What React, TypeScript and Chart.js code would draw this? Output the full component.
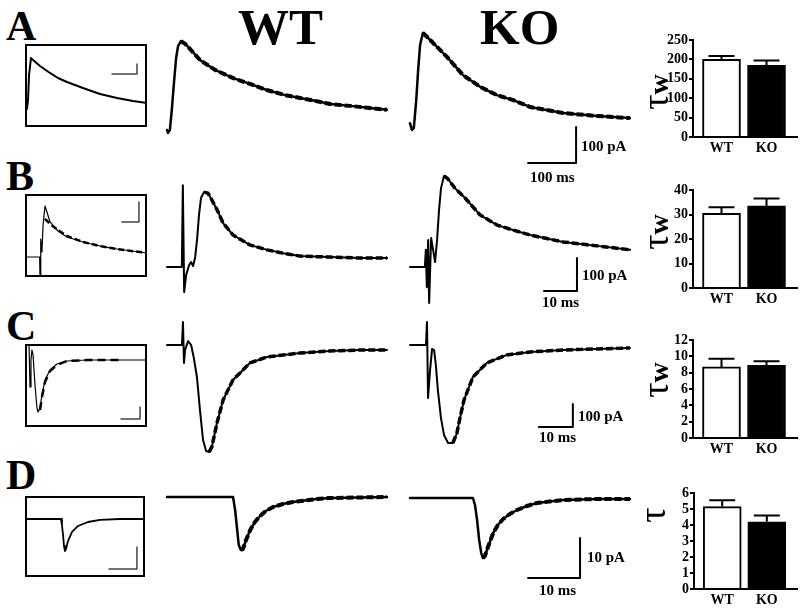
import React, { useEffect, useRef } from "react";
import { Chart, registerables } from "chart.js";
Chart.register(...registerables);

const FONT = "'Liberation Serif','Times New Roman',serif";

// ---------- bar chart data (tau, mean ± sem) ----------
const groups = ["WT", "KO"];
const tauMeanA = [200, 185];
const tauSemA = [9, 12];
const tauMeanB = [30.5, 33.5];
const tauSemB = [2.5, 3];
const tauMeanC = [8.7, 8.9];
const tauSemC = [1.0, 0.5];
const tauMeanD = [5.15, 4.2];
const tauSemD = [0.4, 0.4];
const tauAxisMax = [250, 40, 12, 6];
const tauAxisStep = [50, 10, 2, 1];

// ---------- main traces (t in ms, I in pA) ----------
const aWtT = [0, 2, 6, 10, 15, 19, 23, 29, 38, 48, 69, 100, 138, 173, 208, 246, 277, 308, 340, 381, 423, 458];
const aWtI = [0, -8, 0, 56, 139, 200, 233, 247, 239, 225, 194, 167, 144, 128, 111, 97, 89, 81, 72, 67, 61, 56];
const aKoT = [0, 4, 8, 13, 17, 21, 27, 42, 63, 77, 110, 146, 181, 215, 250, 319, 390, 458];
const aKoI = [19, 0, 6, 83, 167, 236, 270, 250, 222, 203, 153, 120, 97, 83, 64, 47, 39, 33];

const bWtT = [0, 4.5, 4.8, 5.2, 5.8, 6.7, 7.3, 7.9, 8.5, 9.1, 9.7, 10.3, 11.2, 12.4, 13.6, 15.2, 17.0, 20.0, 25.1, 30.3, 35.1, 40.3, 49.4, 58.5, 66.7];
const bWtI = [0, 0, 248, -76, -24, 6, 15, 3, 27, 82, 158, 209, 227, 224, 203, 173, 133, 97, 67, 52, 42, 33, 30, 27, 27];
const bKoT = [0, 4.5, 4.8, 5.1, 5.5, 5.8, 6.4, 7.0, 7.6, 8.2, 8.8, 9.4, 10.3, 11.5, 13.6, 16.7, 21.2, 26.4, 31.2, 36.4, 46.4, 56.7, 66.7];
const bKoI = [0, 0, 52, -61, 82, -109, 88, 52, 15, 82, 173, 239, 276, 267, 239, 209, 158, 127, 112, 97, 76, 64, 52];

const cWtT = [0, 4.4, 4.7, 5.0, 5.3, 6.2, 7.1, 7.9, 8.8, 9.7, 10.6, 11.5, 12.4, 13.2, 14.7, 16.5, 19.4, 24.4, 29.4, 39.1, 47.9, 56.8, 64.7];
const cWtI = [0, 0, 100, -78, -22, 17, 0, -57, -139, -283, -413, -461, -465, -443, -339, -239, -152, -78, -52, -35, -26, -22, -22];
const cKoT = [0, 4.7, 5.0, 5.3, 5.9, 6.5, 7.1, 7.6, 8.2, 9.1, 10.0, 11.2, 12.6, 13.8, 14.7, 15.9, 18.5, 22.6, 28.5, 35.3, 45.0, 54.9, 64.7];
const cKoI = [0, 0, 100, -230, -109, -17, -22, -87, -196, -317, -391, -426, -426, -383, -317, -239, -139, -78, -43, -30, -22, -17, -13];

const dWtT = [0, 12.7, 13.1, 13.5, 13.8, 14.2, 14.6, 15.2, 16.0, 16.9, 17.9, 19.0, 20.4, 22.3, 24.2, 28.8, 31.3, 42.3];
const dWtI = [0, 0, -3.25, -8.25, -12, -13.25, -13, -10.75, -8.25, -6.25, -4.75, -3.5, -2.5, -1.75, -1.25, -0.5, -0.25, 0];
const dKoT = [0, 12.1, 12.5, 12.9, 13.3, 13.7, 14.0, 14.4, 15.0, 16.0, 16.9, 17.9, 19.2, 20.6, 22.5, 24.4, 29.4, 35.9, 42.3];
const dKoI = [0, 0, -1.75, -5.5, -10.5, -13.75, -15, -14.5, -12.25, -8.75, -6.75, -5.25, -4, -3, -2, -1.25, -0.5, -0.25, -0.25];

// index where the exponential fit starts (peak)
const fitStart = { aWt: 7, aKo: 6, bWt: 12, bKo: 12, cWt: 12, cKo: 12, dWt: 5, dKo: 6 };

// scale bars [t, I]
const barAT = [246, 346, 346];
const barAI = [-92, -92, 8];
const barBT = [40.6, 50.6, 50.6];
const barBI = [-73, -73, 27];
const barCT = [37.9, 47.9, 47.9];
const barCI = [-357, -357, -257];
const barDT = [22.7, 32.7, 32.7];
const barDI = [-20, -20, -10];

// ---------- insets (normalised units 0-100) ----------
const inAU = [0.8, 1.6, 2.5, 3.3, 4.9, 6.6, 12.3, 20.5, 27.0, 34.4, 47.5, 61.5, 75.4, 88.5, 100];
const inAV = [34.9, 21.7, 32.5, 62.7, 83.1, 80.7, 73.5, 65.1, 59.0, 54.2, 47.0, 39.8, 34.9, 31.3, 28.9];
const inBU = [0, 12.0, 12.3, 12.7, 13.1, 13.9, 14.8, 16.4, 18.0, 20.5, 27.0, 34.4, 47.5, 61.5, 75.4, 100];
const inBV = [24.1, 24.1, 0, 38.6, 45.8, 30.1, 62.7, 85.5, 78.3, 66.3, 55.4, 48.2, 42.2, 37.3, 33.7, 28.9];
const inBFitU = [16.4, 20.5, 27.0, 34.4, 47.5, 61.5, 75.4, 100];
const inBFitV = [69.9, 63.9, 56.6, 49.4, 42.2, 37.3, 33.7, 28.9];
const inCU = [1.6, 3.3, 4.1, 4.9, 5.7, 6.6, 8.2, 9.8, 10.7, 12.3, 13.9, 16.4, 20.5, 26.2, 34.4, 50.8, 100];
const inCV = [98.8, 98.8, 48.2, 80.7, 92.8, 86.7, 50.6, 22.9, 18.1, 22.9, 38.6, 56.6, 68.7, 75.9, 79.5, 80.7, 80.7];
const inCFitU = [12.3, 13.9, 16.4, 20.5, 26.2, 34.4, 50.8, 77.9];
const inCFitV = [20.5, 36.1, 54.2, 67.5, 74.7, 79.5, 80.7, 80.7];
const inDU = [0, 30, 30.8, 31.7, 32.5, 33.3, 34.2, 35.8, 39.2, 44.2, 52.5, 62.5, 79.2, 100];
const inDV = [71.6, 71.6, 64.2, 51.9, 38.3, 32.1, 34.6, 44.4, 55.6, 63.0, 67.9, 70.4, 71.6, 71.6];
const inBarAU = [71.3, 91.8, 91.8];
const inBarAV = [63.9, 63.9, 75.9];
const inBarBU = [79.5, 93.4, 93.4];
const inBarBV = [66.3, 66.3, 90.4];
const inBarCU = [78.7, 94.3, 94.3];
const inBarCV = [9.6, 9.6, 24.1];
const inBarDU = [70, 93.3, 93.3];
const inBarDV = [9.9, 9.9, 37.0];

type Series = { t: number[]; v: number[]; width: number; dash?: number[]; color?: string };

function sliceFrom(t: number[], v: number[], i: number) {
  return { t: t.slice(i), v: v.slice(i) };
}

function TraceChart(props: {
  box: number[];
  xr: number[];
  yr: number[];
  series: Series[];
}) {
  const ref = useRef<HTMLCanvasElement>(null);
  const { box, xr, yr, series } = props;
  useEffect(() => {
    const chart = new Chart(ref.current as HTMLCanvasElement, {
      type: "line",
      data: {
        datasets: series.map((s) => ({
          data: s.t.map((x, i) => ({ x, y: s.v[i] })),
          borderColor: s.color || "#000",
          borderWidth: s.width,
          borderDash: s.dash || [],
          pointRadius: 0,
          fill: false,
          tension: 0,
          borderCapStyle: s.dash ? "butt" : "round",
          borderJoinStyle: "round",
        })) as any,
      },
      options: {
        animation: false,
        responsive: false,
        maintainAspectRatio: false,
        events: [],
        layout: { padding: 0 },
        plugins: { legend: { display: false }, tooltip: { enabled: false } },
        scales: {
          x: { type: "linear", display: false, min: xr[0], max: xr[1] },
          y: { type: "linear", display: false, min: yr[0], max: yr[1] },
        },
      },
    });
    return () => chart.destroy();
  }, []);
  return (
    <canvas
      ref={ref}
      width={box[2]}
      height={box[3]}
      style={{ position: "absolute", left: box[0], top: box[1], width: box[2], height: box[3] }}
    />
  );
}

// helper: axis ranges from a page box, the pixel of (0,0) and units per pixel
function ranges(box: number[], origin: number[], unit: number[]) {
  const [left, top, w, h] = box;
  const xr = [(left - origin[0]) * unit[0], (left + w - origin[0]) * unit[0]];
  const yr = [(origin[1] - top - h) * unit[1], (origin[1] - top) * unit[1]];
  return { xr, yr };
}

function Trace(props: { box: number[]; origin: number[]; unit: number[]; series: Series[] }) {
  const { xr, yr } = ranges(props.box, props.origin, props.unit);
  return <TraceChart box={props.box} xr={xr} yr={yr} series={props.series} />;
}

function Inset(props: { box: number[]; series: Series[] }) {
  const b = props.box;
  return (
    <>
      <TraceChart box={b} xr={[0, 100]} yr={[0, 100]} series={props.series} />
      <div
        style={{
          position: "absolute",
          left: b[0],
          top: b[1],
          width: b[2],
          height: b[3],
          border: "2px solid #000",
          boxSizing: "border-box",
        }}
      />
    </>
  );
}

const errorBars = {
  id: "errorBars",
  afterDatasetsDraw(chart: any) {
    const ds = chart.data.datasets[0];
    const meta = chart.getDatasetMeta(0);
    const ys = chart.scales.y;
    const ctx = chart.ctx;
    ctx.save();
    ctx.strokeStyle = "#000";
    ctx.lineWidth = 2;
    meta.data.forEach((bar: any, i: number) => {
      const m = ds.data[i].y;
      const top = ys.getPixelForValue(m + ds.errors[i]);
      const base = ys.getPixelForValue(m);
      ctx.beginPath();
      ctx.moveTo(bar.x, base);
      ctx.lineTo(bar.x, top);
      ctx.moveTo(bar.x - 13, top);
      ctx.lineTo(bar.x + 13, top);
      ctx.stroke();
    });
    ctx.restore();
  },
};

function BarChart(props: {
  box: number[];
  yAxisW: number;
  padTop: number;
  padRight: number;
  xAxisH: number;
  max: number;
  step: number;
  mean: number[];
  sem: number[];
}) {
  const ref = useRef<HTMLCanvasElement>(null);
  const p = props;
  useEffect(() => {
    const tickFont = { family: FONT, size: 14, weight: "bold" as const };
    const chart = new Chart(ref.current as HTMLCanvasElement, {
      type: "bar",
      data: {
        datasets: [
          {
            data: p.mean.map((m, i) => ({ x: i, y: m })),
            backgroundColor: ["#fff", "#000"],
            borderColor: "#000",
            borderWidth: 2,
            barThickness: 38,
            errors: p.sem,
          } as any,
        ],
      },
      options: {
        animation: false,
        responsive: false,
        maintainAspectRatio: false,
        events: [],
        layout: { padding: { top: p.padTop, right: p.padRight, left: 0, bottom: 0 } },
        plugins: { legend: { display: false }, tooltip: { enabled: false } },
        scales: {
          x: {
            type: "linear",
            min: -0.633,
            max: 1.677,
            offset: false,
            bounds: "data",
            grid: { display: false, drawTicks: false },
            border: { display: true, color: "#000", width: 2 },
            afterBuildTicks: (s: any) => {
              s.ticks = [{ value: 0 }, { value: 1 }];
            },
            afterFit: (s: any) => {
              s.height = p.xAxisH;
            },
            ticks: {
              callback: (v: any) => groups[Number(v)],
              color: "#000",
              font: tickFont,
              padding: 3,
              maxRotation: 0,
              autoSkip: false,
            },
          },
          y: {
            min: 0,
            max: p.max,
            afterFit: (s: any) => {
              s.width = p.yAxisW;
            },
            ticks: { stepSize: p.step, color: "#000", font: tickFont, padding: 1, autoSkip: false },
            grid: { drawOnChartArea: false, drawTicks: true, tickLength: 4, color: "#000", lineWidth: 2 },
            border: { display: true, color: "#000", width: 2 },
          },
        } as any,
      },
      plugins: [errorBars],
    });
    return () => chart.destroy();
  }, []);
  return (
    <canvas
      ref={ref}
      width={p.box[2]}
      height={p.box[3]}
      style={{ position: "absolute", left: p.box[0], top: p.box[1], width: p.box[2], height: p.box[3] }}
    />
  );
}

function Txt(props: { x: number; base: number; size: number; text: string }) {
  return (
    <div
      style={{
        position: "absolute",
        left: props.x,
        top: props.base - 0.8375 * props.size,
        fontFamily: FONT,
        fontWeight: "bold",
        fontSize: props.size,
        lineHeight: 1,
        whiteSpace: "nowrap",
        color: "#000",
      }}
    >
      {props.text}
    </div>
  );
}

function Tau(props: { cx: number; cy: number; sub: boolean }) {
  return (
    <div
      style={{
        position: "absolute",
        left: props.cx,
        top: props.cy,
        transform: "translate(-50%,-50%) rotate(-90deg)",
        whiteSpace: "nowrap",
        fontFamily: FONT,
        lineHeight: 1,
        color: "#000",
      }}
    >
      <span style={{ fontSize: 38 }}>τ</span>
      {props.sub ? <span style={{ fontSize: 28, fontWeight: "bold" }}>w</span> : null}
    </div>
  );
}

function mainSeries(t: number[], v: number[], fit: number, w: number): Series[] {
  const f = sliceFrom(t, v, fit);
  return [
    { t, v, width: w },
    { t: f.t, v: f.v, width: w + 1.5, dash: [7, 3] },
  ];
}

export default function App() {
  const uA = [100 / 48, 100 / 36];
  const uB = [10 / 33, 100 / 33];
  const uC = [10 / 34, 100 / 23];
  const uD = [10 / 52, 10 / 40];
  return (
    <div
      style={{
        position: "absolute",
        left: 0,
        top: 0,
        width: 800,
        height: 612,
        background: "#fff",
        overflow: "hidden",
      }}
    >
      {/* headers */}
      <Txt x={238} base={45} size={51} text="WT" />
      <Txt x={480} base={45} size={51} text="KO" />
      <Txt x={6} base={40} size={42} text="A" />
      <Txt x={6} base={190} size={42} text="B" />
      <Txt x={6} base={340} size={42} text="C" />
      <Txt x={6} base={489} size={42} text="D" />

      {/* insets */}
      <Inset
        box={[25, 44, 122, 83]}
        series={[
          { t: inAU, v: inAV, width: 2 },
          { t: inBarAU, v: inBarAV, width: 1.5, color: "#444" },
        ]}
      />
      <Inset
        box={[25, 194, 122, 83]}
        series={[
          { t: inBU, v: inBV, width: 1.2 },
          { t: inBFitU, v: inBFitV, width: 2.5, dash: [6, 3] },
          { t: inBarBU, v: inBarBV, width: 1.5, color: "#444" },
        ]}
      />
      <Inset
        box={[25, 344, 122, 83]}
        series={[
          { t: inCU, v: inCV, width: 1.2 },
          { t: inCFitU, v: inCFitV, width: 2.5, dash: [8, 5] },
          { t: inBarCU, v: inBarCV, width: 1.5, color: "#444" },
        ]}
      />
      <Inset
        box={[25, 496, 120, 81]}
        series={[
          { t: inDU, v: inDV, width: 1.8 },
          { t: inBarDU, v: inBarDV, width: 1.5, color: "#444" },
        ]}
      />

      {/* row A */}
      <Trace box={[160, 25, 235, 120]} origin={[167, 130]} unit={uA} series={mainSeries(aWtT, aWtI, fitStart.aWt, 2.5)} />
      <Trace
        box={[400, 25, 240, 160]}
        origin={[410, 130]}
        unit={uA}
        series={[...mainSeries(aKoT, aKoI, fitStart.aKo, 2.5), { t: barAT, v: barAI, width: 2 }]}
      />
      <Txt x={581} base={152} size={15} text="100 pA" />
      <Txt x={530} base={183} size={15} text="100 ms" />

      {/* row B */}
      <Trace box={[160, 175, 235, 125]} origin={[167, 267]} unit={uB} series={mainSeries(bWtT, bWtI, fitStart.bWt, 2)} />
      <Trace
        box={[400, 165, 240, 145]}
        origin={[410, 267]}
        unit={uB}
        series={[...mainSeries(bKoT, bKoI, fitStart.bKo, 2), { t: barBT, v: barBI, width: 2 }]}
      />
      <Txt x={582} base={281} size={15} text="100 pA" />
      <Txt x={542} base={308} size={15} text="10 ms" />

      {/* row C */}
      <Trace box={[160, 315, 235, 145]} origin={[167, 345]} unit={uC} series={mainSeries(cWtT, cWtI, fitStart.cWt, 2)} />
      <Trace
        box={[400, 315, 240, 140]}
        origin={[410, 345]}
        unit={uC}
        series={[...mainSeries(cKoT, cKoI, fitStart.cKo, 2), { t: barCT, v: barCI, width: 2 }]}
      />
      <Txt x={578} base={422} size={15} text="100 pA" />
      <Txt x={539} base={443} size={15} text="10 ms" />

      {/* row D */}
      <Trace box={[160, 485, 235, 80]} origin={[167, 497]} unit={uD} series={mainSeries(dWtT, dWtI, fitStart.dWt, 2.5)} />
      <Trace
        box={[400, 485, 240, 100]}
        origin={[410, 498]}
        unit={uD}
        series={[...mainSeries(dKoT, dKoI, fitStart.dKo, 2.5), { t: barDT, v: barDI, width: 2 }]}
      />
      <Txt x={587} base={563} size={15} text="10 pA" />
      <Txt x={539} base={596} size={15} text="10 ms" />

      {/* bar charts */}
      <BarChart box={[640, 28, 160, 135]} yAxisW={53} padTop={12} padRight={3} xAxisH={26} max={tauAxisMax[0]} step={tauAxisStep[0]} mean={tauMeanA} sem={tauSemA} />
      <BarChart box={[640, 178, 160, 136]} yAxisW={53} padTop={12} padRight={3} xAxisH={26} max={tauAxisMax[1]} step={tauAxisStep[1]} mean={tauMeanB} sem={tauSemB} />
      <BarChart box={[640, 328, 160, 136]} yAxisW={53} padTop={12} padRight={3} xAxisH={26} max={tauAxisMax[2]} step={tauAxisStep[2]} mean={tauMeanC} sem={tauSemC} />
      <BarChart box={[640, 481, 160, 134]} yAxisW={54} padTop={12} padRight={3} xAxisH={26} max={tauAxisMax[3]} step={tauAxisStep[3]} mean={tauMeanD} sem={tauSemD} />
      <Tau cx={655} cy={92} sub={true} />
      <Tau cx={655} cy={232} sub={true} />
      <Tau cx={655} cy={380} sub={true} />
      <Tau cx={652} cy={515} sub={false} />
    </div>
  );
}
